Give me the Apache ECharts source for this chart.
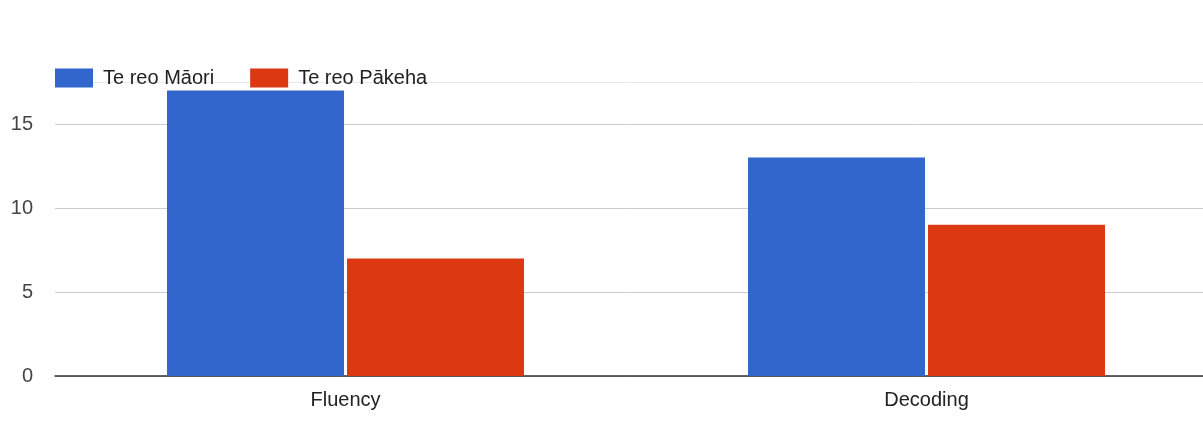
<!DOCTYPE html>
<html>
<head>
<meta charset="utf-8">
<script src="https://cdn.jsdelivr.net/npm/echarts@6/dist/echarts.min.js"></script>
<style>
html,body{margin:0;padding:0;background:#fff;}
#main{width:1203px;height:430px;}
</style>
</head>
<body>
<div id="main"></div>
<script>
const categories = ['Fluency', 'Decoding'];
const seriesNames = ['Te reo Māori', 'Te reo Pākeha'];
const maoriValues = [17, 13];
const pakehaValues = [7, 9];
const yTicks = [0, 5, 10, 15];

const chart = echarts.init(document.getElementById('main'), null, {renderer: 'canvas'});
const font = '"Liberation Sans", Arial, sans-serif';
chart.setOption({
  animation: false,
  backgroundColor: '#ffffff',
  textStyle: {fontFamily: font},
  legend: {
    left: 50, top: 63,
    itemWidth: 38, itemHeight: 19, itemGap: 36,
    icon: 'rect',
    textStyle: {fontSize: 20, color: '#222', fontFamily: font, padding: [0, 0, 0, 5]},
    data: seriesNames
  },
  grid: {left: 55, width: 1162, top: 82, height: 294, containLabel: false, outerBoundsMode: 'none'},
  xAxis: {
    type: 'category',
    data: categories,
    axisLine: {lineStyle: {color: '#333', width: 1.5}},
    axisTick: {show: false},
    axisLabel: {fontSize: 20, color: '#222', margin: 14, fontFamily: font}
  },
  yAxis: {
    type: 'value',
    min: 0, max: 17.5, interval: 5,
    axisLine: {show: false},
    axisTick: {show: false},
    axisLabel: {
      fontSize: 20, color: '#444', margin: 22, fontFamily: font,
      showMaxLabel: false,
      formatter: v => (yTicks.indexOf(v) >= 0 ? String(v) : '')
    },
    splitLine: {lineStyle: {color: ['#ccc', '#ccc', '#ccc', '#ccc', '#e8e8e8'], width: 1}}
  },
  series: [
    {name: seriesNames[0], type: 'bar', data: maoriValues, barWidth: 177, barGap: '1.7%', itemStyle: {color: '#3366cc'}},
    {name: seriesNames[1], type: 'bar', data: pakehaValues, barWidth: 177, barGap: '1.7%', itemStyle: {color: '#dc3912'}}
  ]
});
</script>
</body>
</html>
